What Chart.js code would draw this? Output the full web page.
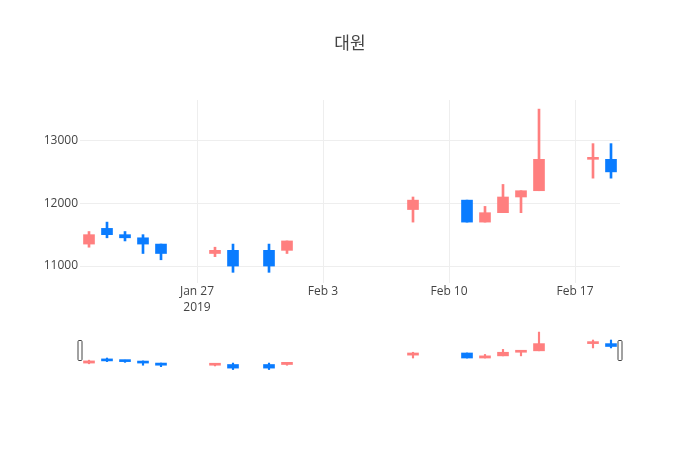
<!DOCTYPE html>
<html>
<head>
<meta charset="utf-8">
<script src="https://cdn.jsdelivr.net/npm/chart.js@4/dist/chart.umd.min.js"></script>
<style>
  body { margin: 0; background: #fff; }
  #wrap { position: relative; width: 700px; height: 450px; }
  #wrap canvas { position: absolute; left: 0; top: 0; }
</style>
</head>
<body>
<div id="wrap">
  <canvas id="main" width="700" height="450"></canvas>
  <canvas id="slider" width="700" height="450"></canvas>
</div>
<script>
//trading days and daily prices (KRW)
const dates = ['2019-01-21', '2019-01-22', '2019-01-23', '2019-01-24', '2019-01-25',
  '2019-01-28', '2019-01-29', '2019-01-31', '2019-02-01', '2019-02-08',
  '2019-02-11', '2019-02-12', '2019-02-13', '2019-02-14', '2019-02-15',
  '2019-02-18', '2019-02-19'];
const open  = [11350, 11600, 11500, 11450, 11350, 11200, 11250, 11250, 11250, 11900, 12050, 11700, 11850, 12100, 12200, 12700, 12700];
const high  = [11550, 11700, 11550, 11500, 11350, 11300, 11350, 11350, 11400, 12100, 12050, 11950, 12300, 12200, 13500, 12950, 12950];
const low   = [11300, 11450, 11400, 11200, 11100, 11150, 10900, 10900, 11200, 11700, 11700, 11700, 11850, 11850, 12200, 12400, 12400];
const close = [11500, 11500, 11450, 11350, 11200, 11250, 11000, 11000, 11400, 12050, 11700, 11850, 12100, 12200, 12700, 12700, 12500];

//axis ticks
const xTickDates = ['2019-01-27', '2019-02-03', '2019-02-10', '2019-02-17'];
const yTicks = [11000, 12000, 13000];

const upColor = '#ff7f7f';
const downColor = '#0a7cff';
const font = '"Open Sans", "Noto Sans CJK KR", sans-serif';

//x positions as day offsets from Jan 27
const DAY = 86400000;
const base = Date.parse('2019-01-27');
const toDay = d => (Date.parse(d) - base) / DAY;
const MONTHS = ['Jan', 'Feb', 'Mar', 'Apr', 'May', 'Jun', 'Jul', 'Aug', 'Sep', 'Oct', 'Nov', 'Dec'];
const fmtDay = v => {
  const d = new Date(base + v * DAY);
  const s = MONTHS[d.getUTCMonth()] + ' ' + d.getUTCDate();
  return v === toDay(xTickDates[0]) ? [s, String(d.getUTCFullYear())] : s;
};

const days = dates.map(toDay);
const colors = close.map((c, i) => c >= open[i] ? upColor : downColor);

//visible range: half a day around first/last session
const xMin = toDay('2019-01-20') + 0.5;
const xMax = toDay('2019-02-19') + 0.5;
const yMin = 10730;
const yMax = 13645;

//wick + body datasets as floating bars
const candleSets = (wickWidth) => [
  {
    data: days.map((x, i) => ({ x: x, y: [low[i], high[i]] })),
    backgroundColor: colors,
    barThickness: wickWidth,
    minBarLength: 1,
    grouped: false,
    order: 1
  },
  {
    data: days.map((x, i) => ({ x: x, y: [open[i], close[i]] })),
    backgroundColor: colors,
    barThickness: 11,
    minBarLength: 2,
    grouped: false,
    order: 0
  }
];

new Chart(document.getElementById('main'), {
  type: 'bar',
  data: { datasets: candleSets(2) },
  options: {
    responsive: false,
    animation: false,
    layout: { padding: { left: 0, right: 0, top: 0, bottom: 137 } },
    plugins: {
      legend: { display: false },
      tooltip: { enabled: false },
      title: {
        display: true,
        text: '대원',
        color: '#444',
        font: { family: font, size: 17, weight: 'normal' },
        padding: { top: 34, bottom: 45.6 }
      }
    },
    scales: {
      x: {
        type: 'linear',
        min: xMin,
        max: xMax,
        offset: false,
        afterBuildTicks: s => { s.ticks = xTickDates.map(d => ({ value: toDay(d) })); },
        afterFit: s => { s.height = 30; },
        grid: { color: '#eee', offset: false, drawTicks: false },
        border: { display: false },
        ticks: {
          color: '#444',
          padding: 1,
          maxRotation: 0,
          autoSkip: false,
          font: { family: font, size: 12, lineHeight: 1.33 },
          callback: v => fmtDay(v)
        }
      },
      y: {
        min: yMin,
        max: yMax,
        afterBuildTicks: s => { s.ticks = yTicks.map(v => ({ value: v })); },
        afterFit: s => { s.width = 80; },
        grid: { color: '#eee', drawTicks: false },
        border: { display: false },
        ticks: {
          color: '#444',
          padding: 2,
          font: { family: font, size: 12 },
          callback: v => String(v)
        }
      },
      //empty right margin so the title centres on the page
      yRight: {
        position: 'right',
        min: yMin,
        max: yMax,
        afterFit: s => { s.width = 80; },
        grid: { drawOnChartArea: false, drawTicks: false },
        border: { display: false },
        ticks: { display: false }
      }
    }
  }
});

//range slider grab handles
const handles = {
  id: 'handles',
  afterDraw(chart) {
    const ctx = chart.ctx;
    const a = chart.chartArea;
    ctx.save();
    ctx.fillStyle = '#fff';
    ctx.strokeStyle = '#444';
    ctx.lineWidth = 1;
    [a.left, a.right].forEach(x => {
      ctx.beginPath();
      ctx.roundRect(x - 2, 340.5, 4, 20, 1);
      ctx.fill();
      ctx.stroke();
    });
    ctx.restore();
  }
};

new Chart(document.getElementById('slider'), {
  type: 'bar',
  data: { datasets: candleSets(1.5) },
  options: {
    responsive: false,
    animation: false,
    layout: { padding: { left: 80, right: 80, top: 330, bottom: 78 } },
    plugins: {
      legend: { display: false },
      tooltip: { enabled: false }
    },
    scales: {
      x: { type: 'linear', min: xMin, max: xMax, offset: false, display: false },
      y: { min: yMin, max: yMax, display: false }
    }
  },
  plugins: [handles]
});
</script>
</body>
</html>
